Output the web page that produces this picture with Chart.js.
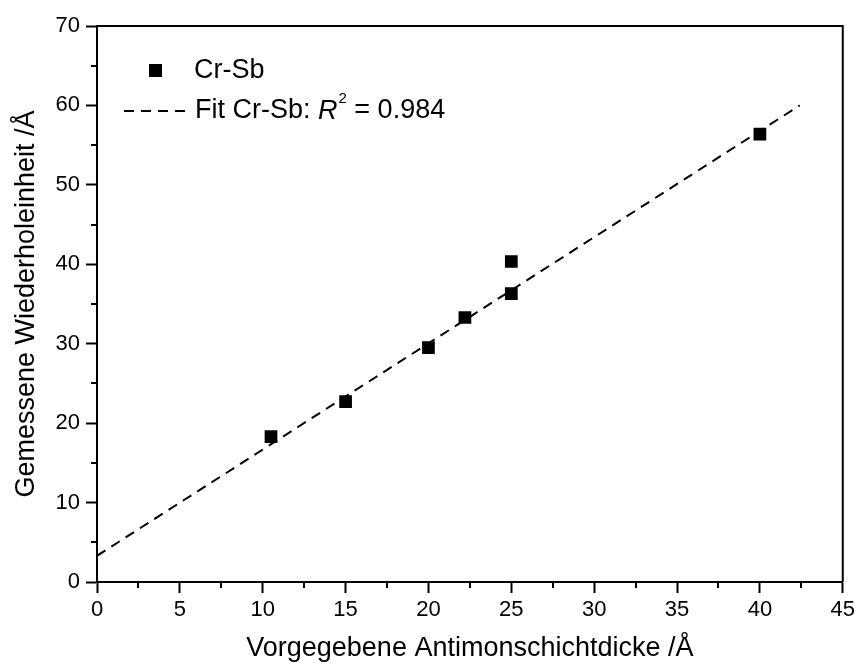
<!DOCTYPE html>
<html lang="de">

<head>
  <meta charset="UTF-8">
  <title>Cr-Sb Wiederholeinheit</title>
  <script src="https://cdn.jsdelivr.net/npm/chart.js"></script>
  <style>
    html, body { margin: 0; padding: 0; background: #fff; }
    #wrap { width: 859px; height: 666px; }
  </style>
</head>

<body>
  <div id="wrap"><canvas id="crsbChart" width="859" height="666"></canvas></div>

  <script>
    // Messpunkte
    const dickeX = [10.5, 15, 20, 22.2, 25, 25, 40];
    const periodeY = [18.3, 22.7, 29.5, 33.3, 36.3, 40.35, 56.4];
    const fitX = [0, 42.4];
    const fitY = [3.3, 60.0];
    const xTicks = [0, 5, 10, 15, 20, 25, 30, 35, 40, 45];
    const yTicks = [0, 10, 20, 30, 40, 50, 60, 70];

    const FONT = "'Liberation Sans', Arial, sans-serif";

    // kleine Ticks, Rahmen oben/rechts und Legende
    const extras = {
      id: 'extras',
      afterDraw(chart) {
        const ctx = chart.ctx;
        const a = chart.chartArea;
        const sx = chart.scales.x, sy = chart.scales.y;
        ctx.save();
        ctx.strokeStyle = '#000';
        ctx.lineWidth = 2;
        ctx.beginPath();
        for (let i = 0; i < xTicks.length - 1; i++) {
          const px = Math.round(sx.getPixelForValue((xTicks[i] + xTicks[i + 1]) / 2));
          ctx.moveTo(px, a.bottom);
          ctx.lineTo(px, a.bottom + 6);
        }
        for (let i = 0; i < yTicks.length - 1; i++) {
          const py = Math.round(sy.getPixelForValue((yTicks[i] + yTicks[i + 1]) / 2));
          ctx.moveTo(a.left, py);
          ctx.lineTo(a.left - 6, py);
        }
        // box
        ctx.moveTo(a.left, a.top);
        ctx.lineTo(a.right, a.top);
        ctx.lineTo(a.right, a.bottom);
        ctx.stroke();

        // legend
        ctx.fillStyle = '#000';
        ctx.fillRect(149, 64, 13, 13);
        ctx.font = '27px ' + FONT;
        ctx.textBaseline = 'middle';
        ctx.fillText('Cr-Sb', 194, 71);

        ctx.setLineDash([10, 7]);
        ctx.beginPath();
        ctx.moveTo(124, 111);
        ctx.lineTo(188, 111);
        ctx.stroke();
        ctx.setLineDash([]);

        let x = 195;
        const y = 111;
        const t1 = 'Fit Cr-Sb: ';
        ctx.fillText(t1, x, y);
        x += ctx.measureText(t1).width;
        ctx.font = 'italic 27px ' + FONT;
        ctx.fillText('R', x, y);
        x += ctx.measureText('R').width;
        ctx.font = '15px ' + FONT;
        ctx.fillText('2', x + 1, y - 12);
        x += ctx.measureText('2').width + 1;
        ctx.font = '27px ' + FONT;
        ctx.fillText(' = 0.984', x, y);
        ctx.restore();
      }
    };

    const ctx = document.getElementById('crsbChart').getContext('2d');
    const crsbChart = new Chart(ctx, {
      type: 'scatter',
      data: {
        datasets: [{
          label: 'Cr-Sb',
          data: dickeX.map((v, i) => ({ x: v, y: periodeY[i] })),
          pointStyle: 'rect',
          pointRadius: 9,
          pointHoverRadius: 9,
          backgroundColor: '#000',
          borderColor: '#000',
          borderWidth: 0,
          order: 1
        }, {
          type: 'line',
          label: 'Fit Cr-Sb',
          data: fitX.map((v, i) => ({ x: v, y: fitY[i] })),
          borderColor: '#000',
          borderWidth: 2,
          borderDash: [10, 7],
          pointRadius: 0,
          fill: false,
          order: 2
        }]
      },
      options: {
        responsive: false,
        animation: false,
        layout: { padding: { top: 26, right: 14, left: 0, bottom: 0 } },
        plugins: {
          legend: { display: false },
          tooltip: { enabled: false }
        },
        scales: {
          x: {
            type: 'linear',
            min: 0,
            max: 45,
            afterFit: s => { s.height = 84; },
            afterBuildTicks: s => { s.ticks = xTicks.map(v => ({ value: v })); },
            ticks: { color: '#000', font: { family: FONT, size: 22 }, padding: 4 },
            grid: { display: true, drawOnChartArea: false, drawTicks: true, tickLength: 11, tickWidth: 2, tickColor: '#000' },
            border: { display: true, color: '#000', width: 2 },
            title: {
              display: true,
              text: 'Vorgegebene Antimonschichtdicke /Å',
              color: '#000',
              font: { family: FONT, size: 27 },
              padding: { top: 0, bottom: 1 }
            }
          },
          y: {
            type: 'linear',
            min: 0,
            max: 70,
            afterFit: s => { s.width = 97; },
            afterBuildTicks: s => { s.ticks = yTicks.map(v => ({ value: v })); },
            ticks: { color: '#000', font: { family: FONT, size: 22 }, padding: 6 },
            grid: { display: true, drawOnChartArea: false, drawTicks: true, tickLength: 11, tickWidth: 2, tickColor: '#000' },
            border: { display: true, color: '#000', width: 2 },
            title: {
              display: true,
              text: 'Gemessene Wiederholeinheit /Å',
              color: '#000',
              font: { family: FONT, size: 27 },
              padding: { top: 10, bottom: 0 }
            }
          }
        }
      },
      plugins: [extras]
    });
  </script>
</body>

</html>
